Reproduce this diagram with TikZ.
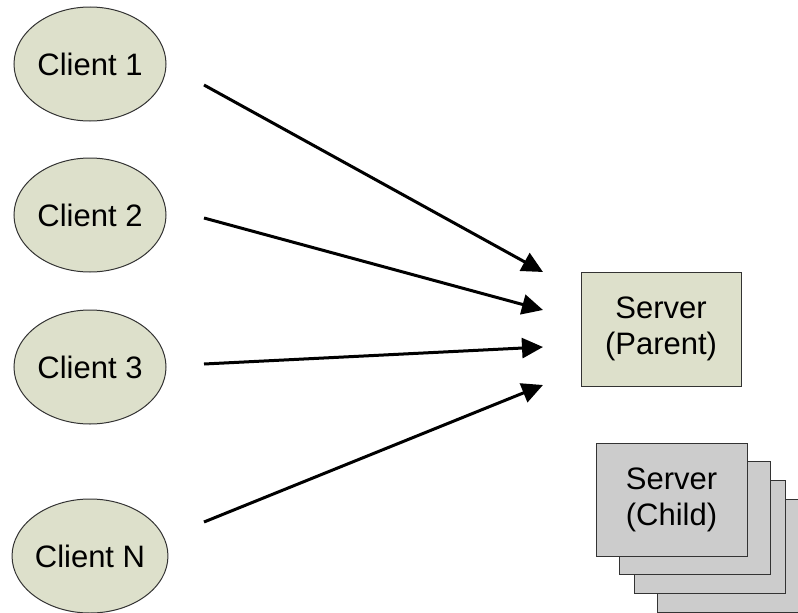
\documentclass[tikz,border=0pt]{standalone}
\usepackage{fontspec}
\setmainfont{Liberation Sans}
\usetikzlibrary{arrows.meta,shapes.geometric}
\definecolor{clientfill}{HTML}{DDE0CB}
\definecolor{childfill}{HTML}{CCCCCC}
\definecolor{edge}{HTML}{333333}
\tikzset{
  client/.style={ellipse, draw=edge, line width=1pt, fill=clientfill,
    minimum width=152pt, minimum height=114pt, inner sep=0pt},
  parentbox/.style={rectangle, draw=edge, line width=1pt, fill=clientfill,
    minimum width=160pt, minimum height=114pt, inner sep=0pt, align=center},
  childbox/.style={rectangle, draw=edge, line width=1pt, fill=childfill,
    minimum width=151pt, minimum height=113pt, inner sep=0pt, align=center},
  link/.style={line width=3pt, -{Triangle[length=21pt,width=20pt]}},
  every node/.style={font=\fontsize{31}{36}\selectfont}
}
\begin{document}
\begin{tikzpicture}[x=1pt,y=-1pt]
  \useasboundingbox (0,0) rectangle (798,613);
  \clip (0,0) rectangle (798,613);
  % clients
  \node[client] (c1) at (90,64) {Client 1};
  \node[client] (c2) at (90,215) {Client 2};
  \node[client] (c3) at (90,367) {Client 3};
  \node[client] (cn) at (90,556) {Client N};
  % parent server
  \node[parentbox] (parent) at (661,329) {Server\\(Parent)};
  % stacked child servers, back to front
  \node[childbox] (ch4) at (732.5,555.5) {};
  \node[childbox] (ch3) at (709.5,537) {};
  \node[childbox] (ch2) at (694.5,518) {};
  \node[childbox] (ch1) at (671.5,499.5) {Server\\(Child)};
  % connector end points
  \coordinate (s1) at (204,85);
  \coordinate (s2) at (204,218);
  \coordinate (s3) at (204,364);
  \coordinate (s4) at (204,522);
  \coordinate (t1) at (543,272);
  \coordinate (t2) at (543,310);
  \coordinate (t3) at (543,347);
  \coordinate (t4) at (543,385);
  \draw[link] (s1) -- (t1);
  \draw[link] (s2) -- (t2);
  \draw[link] (s3) -- (t3);
  \draw[link] (s4) -- (t4);
\end{tikzpicture}
\end{document}
